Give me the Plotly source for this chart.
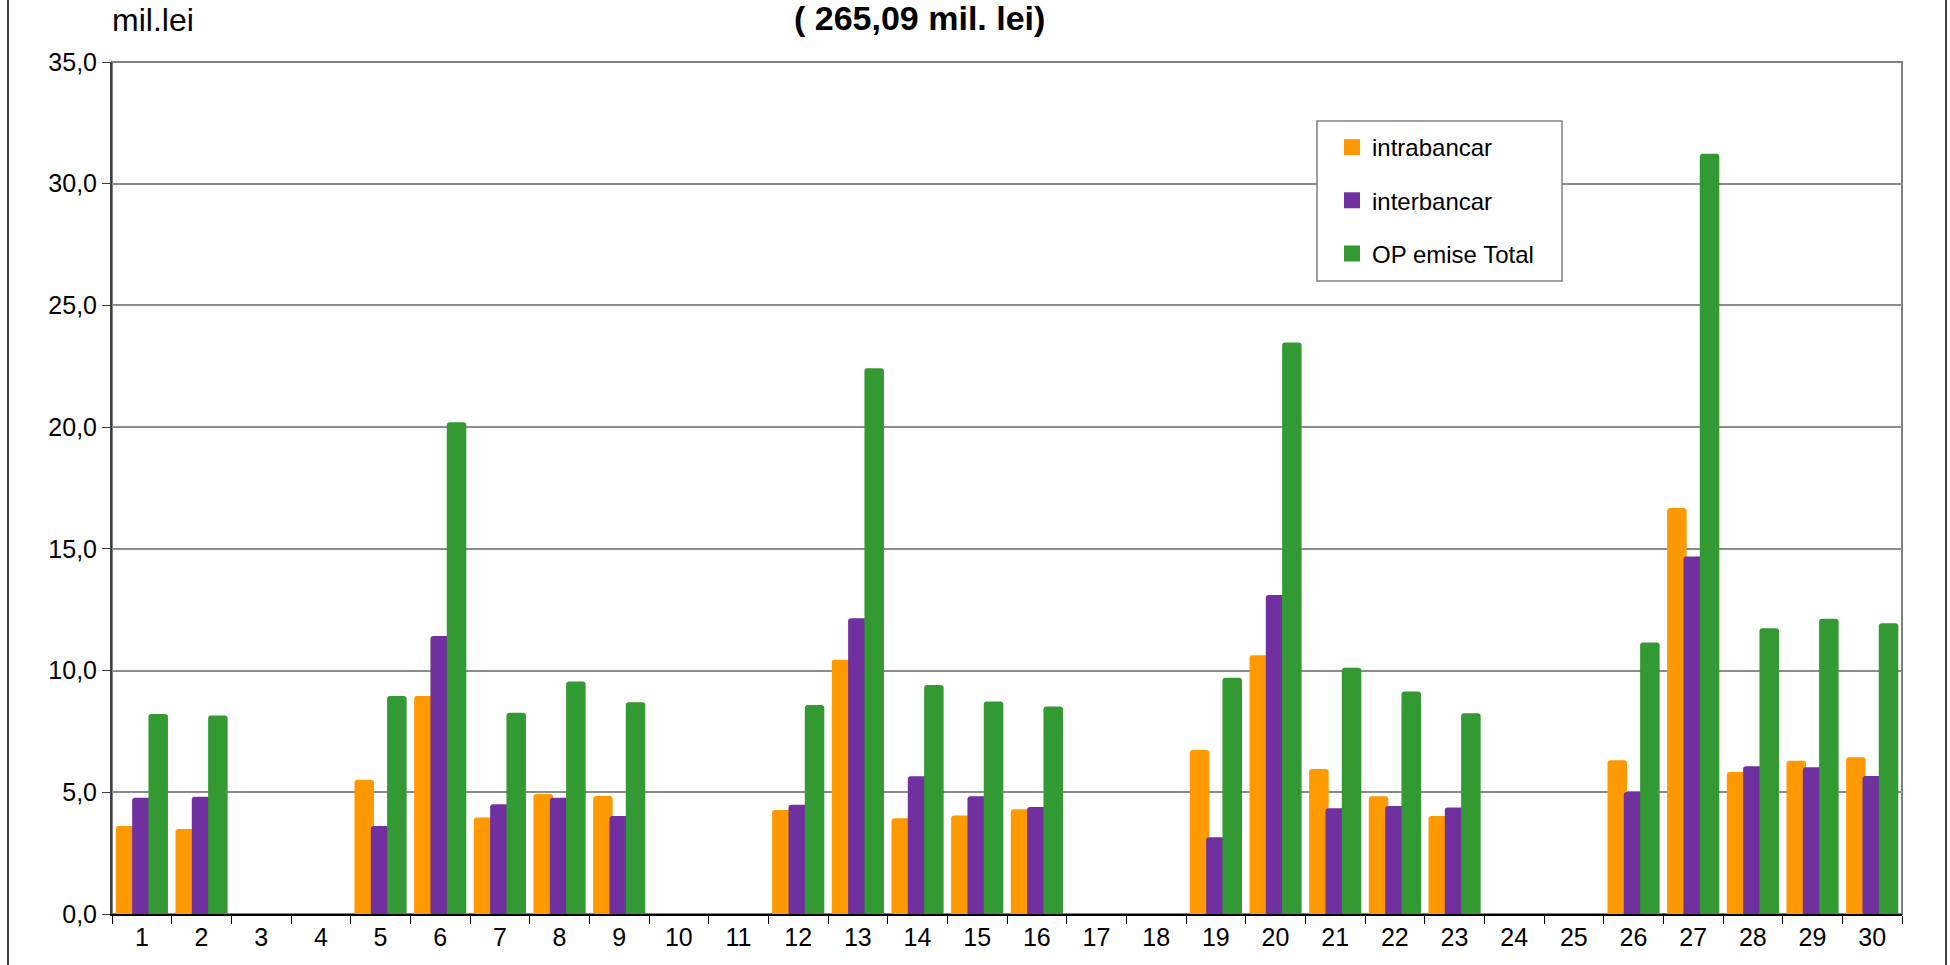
import plotly.graph_objects as go

days = [str(d) for d in range(1, 31)]
intrabancar = [3.62, 3.49, 0, 0, 5.51, 8.96, 3.96, 4.93, 4.85, 0, 0, 4.27, 10.44, 3.93, 4.05,
               4.30, 0, 0, 6.74, 10.63, 5.96, 4.84, 4.03, 0, 0, 6.32, 16.68, 5.83, 6.30, 6.44]
interbancar = [4.78, 4.82, 0, 0, 3.62, 11.42, 4.51, 4.78, 4.03, 0, 0, 4.49, 12.15, 5.66, 4.84,
               4.40, 0, 0, 3.15, 13.10, 4.34, 4.44, 4.38, 0, 0, 5.01, 14.69, 6.07, 6.03, 5.67]
op_total = [8.22, 8.15, 0, 0, 8.96, 20.2, 8.27, 9.55, 8.70, 0, 0, 8.59, 22.42, 9.41, 8.73,
            8.52, 0, 0, 9.71, 23.48, 10.12, 9.14, 8.25, 0, 0, 11.15, 31.23, 11.74, 12.13, 11.94]

series_names = ["intrabancar", "interbancar", "OP emise Total"]
series_values = [intrabancar, interbancar, op_total]
colors = ["#FF9900", "#7030A0", "#339933"]
title_text = "( 265,09 mil. lei)"
unit_text = "mil.lei"

W, H = 1950, 965
ML, MR, MT, MB = 112, 48, 62, 51
PW = W - ML - MR
PH = H - MT - MB

def px_x(p):
    return (p - ML) / PW

def px_y(p):
    return (H - MB - p) / PH

bar_w = 0.327
step = 0.2735
start = -0.436

fig = go.Figure()
for i, (name, vals, col) in enumerate(zip(series_names, series_values, colors)):
    fig.add_trace(go.Bar(
        x=days, y=vals, name=name, showlegend=False,
        marker=dict(color=col, line=dict(width=0), cornerradius=3),
        width=bar_w, offset=start + i * step,
    ))
for i, (name, col) in enumerate(zip(series_names, colors)):
    fig.add_trace(go.Scatter(
        x=[None], y=[None], mode="markers", name=name, legendgroup=name,
        marker=dict(symbol="square", size=20, color=col),
    ))

font_fam = "Liberation Sans, Arial, sans-serif"

fig.update_layout(
    width=W, height=H,
    margin=dict(l=ML, r=MR, t=MT, b=MB, pad=0),
    paper_bgcolor="white", plot_bgcolor="white",
    barmode="overlay",
    separators=", ",
    font=dict(family=font_fam, size=25, color="black"),
    showlegend=True,
    legend=dict(
        x=px_x(1332), y=px_y(125), xanchor="left", yanchor="top",
        bgcolor="rgba(0,0,0,0)", borderwidth=0,
        font=dict(size=24, family=font_fam),
        tracegroupgap=19, itemsizing="trace",
    ),
    xaxis=dict(
        type="category", range=[-0.5, 29.5],
        showline=True, linecolor="black", linewidth=2,
        ticks="outside", tickson="boundaries", ticklen=8, tickcolor="black", tickwidth=1,
        showgrid=False, tickfont=dict(size=25),
    ),
    yaxis=dict(
        range=[0, 35], dtick=5, tick0=0, tickformat=".1f",
        showline=True, linecolor="#404040", linewidth=2,
        ticks="outside", ticklen=8, tickcolor="#404040",
        showgrid=True, gridcolor="#8c8c8c", gridwidth=1.5,
        zeroline=False, tickfont=dict(size=25),
    ),
    shapes=[
        dict(type="rect", xref="paper", yref="paper", x0=0, x1=1, y0=0, y1=1,
             line=dict(color="#808080", width=2), layer="below"),
        dict(type="rect", xref="paper", yref="paper",
             x0=px_x(1317), x1=px_x(1562), y0=px_y(281), y1=px_y(121),
             line=dict(color="#808080", width=1.5), fillcolor="white", layer="above"),
        dict(type="line", xref="paper", yref="paper", x0=px_x(8), x1=px_x(8),
             y0=-0.2, y1=1.2, line=dict(color="black", width=1.5)),
        dict(type="line", xref="paper", yref="paper", x0=px_x(1946), x1=px_x(1946),
             y0=-0.2, y1=1.2, line=dict(color="black", width=1.5)),
    ],
    annotations=[
        dict(text="<b>" + title_text + "</b>", xref="paper", yref="paper",
             x=px_x(919), y=px_y(18), xanchor="center", yanchor="middle",
             showarrow=False, font=dict(size=34, family=font_fam)),
        dict(text=unit_text, xref="paper", yref="paper",
             x=px_x(110), y=px_y(20), xanchor="left", yanchor="middle",
             showarrow=False, font=dict(size=32, family=font_fam)),
    ],
)

fig.write_html(
    "out.html",
    config={"displayModeBar": False},
    post_script="document.body.style.margin='0';document.body.style.overflow='hidden';",
)
